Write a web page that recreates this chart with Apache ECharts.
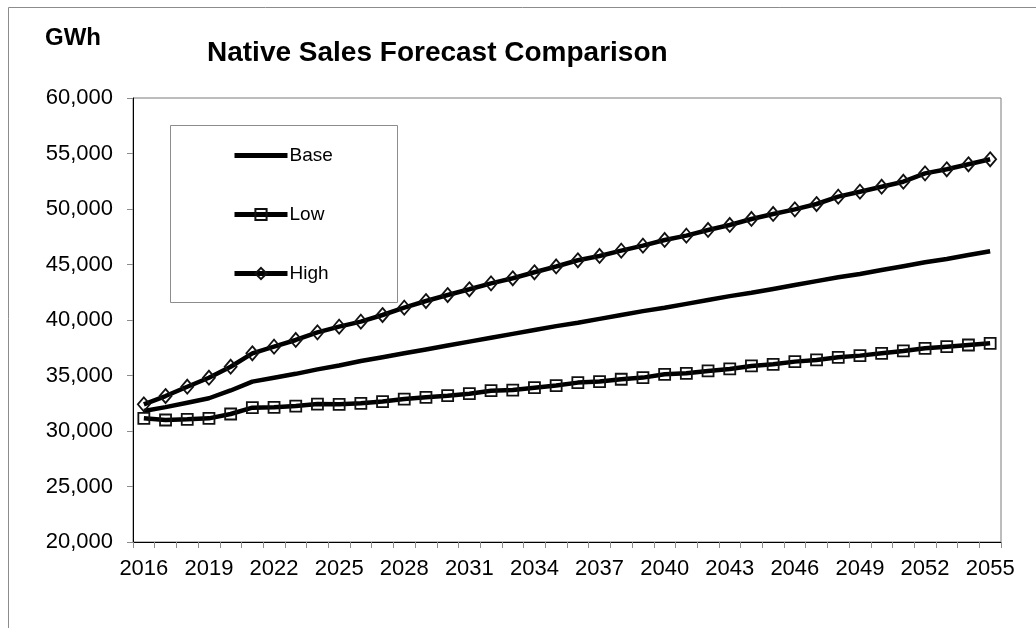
<!DOCTYPE html>
<html>
<head>
<meta charset="utf-8">
<script src="https://cdn.jsdelivr.net/npm/echarts@6/dist/echarts.min.js"></script>
<style>
  html, body { margin: 0; padding: 0; background: #fff; }
  #chart { width: 1036px; height: 628px; }
</style>
</head>
<body>
<div id="chart"></div>
<script>
// Forecast years (category axis)
const years = ['2016','2017','2018','2019','2020','2021','2022','2023','2024','2025',
               '2026','2027','2028','2029','2030','2031','2032','2033','2034','2035',
               '2036','2037','2038','2039','2040','2041','2042','2043','2044','2045',
               '2046','2047','2048','2049','2050','2051','2052','2053','2054','2055'];

// Native sales, GWh
const baseSales = [31800,32150,32550,32950,33650,34450,34800,35150,35550,35900,
                   36300,36650,37000,37350,37700,38050,38400,38750,39100,39450,
                   39750,40100,40450,40800,41100,41450,41800,42150,42450,42800,
                   43150,43500,43850,44150,44500,44850,45200,45500,45850,46200];
const lowSales  = [31140,30990,31050,31140,31530,32100,32130,32250,32430,32400,
                   32490,32650,32880,33030,33180,33360,33630,33690,33900,34090,
                   34360,34450,34660,34810,35110,35200,35410,35590,35860,36010,
                   36250,36400,36640,36790,37000,37210,37450,37600,37750,37900];
const highSales = [32400,33150,33990,34800,35790,37000,37600,38200,38890,39400,
                   39850,40450,41110,41710,42250,42770,43300,43760,44300,44820,
                   45380,45770,46250,46700,47210,47600,48110,48560,49100,49550,
                   49970,50450,51110,51560,52010,52460,53210,53580,54030,54480];

// Value axis range
const yMin = 20000, yMax = 60000, yStep = 5000;

const FONT = '"Liberation Sans", Arial, sans-serif';
const chart = echarts.init(document.getElementById('chart'), null, { renderer: 'canvas' });

const lineBase = { color: '#000', width: 4.5 };
const markerStyle = { color: 'rgba(255,255,255,0)', borderColor: '#111', borderWidth: 1.8 };

chart.setOption({
  animation: false,
  backgroundColor: '#fff',
  textStyle: { fontFamily: FONT },
  graphic: [
    // outer chart frame
    { type: 'rect', left: 6, top: 5, shape: { width: 1100, height: 700 },
      style: { fill: 'none', stroke: '#8c8c8c', lineWidth: 1 }, silent: true, z: -1 },
    // legend frame
    { type: 'rect', left: 170, top: 125, shape: { width: 227, height: 177 },
      style: { fill: '#fff', stroke: '#8c8c8c', lineWidth: 1 }, silent: true, z: 50 },
    { type: 'text', left: 45, top: 26,
      style: { text: 'GWh', font: 'bold 24px ' + FONT, fill: '#000' } }
  ],
  title: {
    text: 'Native Sales Forecast Comparison',
    left: 207, top: 39, padding: 0,
    textStyle: { fontFamily: FONT, fontSize: 28, fontWeight: 'bold', color: '#000' }
  },
  legend: {
    orient: 'vertical',
    left: 232, top: 146,
    padding: 0,
    itemWidth: 53, itemHeight: 14,
    itemGap: 45 - 5,
    z: 60,
    lineStyle: { width: 5, color: '#000' },
    textStyle: { fontFamily: FONT, fontSize: 19, color: '#000', padding: [0, 0, 0, -3] },
    data: ['Base', 'Low', 'High']
  },
  grid: {
    left: 133, top: 98, right: 35, bottom: 86,
    show: true, borderColor: '#7a7a7a', borderWidth: 1, containLabel: false
  },
  xAxis: {
    type: 'category',
    data: years,
    boundaryGap: true,
    axisLine: { lineStyle: { color: '#000', width: 1 } },
    axisTick: { show: true, interval: 0, length: 6, inside: false, lineStyle: { color: '#8c8c8c' } },
    axisLabel: { interval: 2, margin: 16, fontFamily: FONT, fontSize: 22, color: '#000' },
    splitLine: { show: false }
  },
  yAxis: {
    type: 'value',
    min: yMin, max: yMax, interval: yStep,
    axisLine: { show: true, lineStyle: { color: '#000', width: 1 } },
    axisTick: { show: true, length: 6, lineStyle: { color: '#8c8c8c' } },
    axisLabel: {
      margin: 20, fontFamily: FONT, fontSize: 22, color: '#000',
      formatter: v => v.toLocaleString('en-US')
    },
    splitLine: { show: false }
  },
  series: [
    {
      name: 'Base', type: 'line', data: baseSales,
      symbol: 'none', showSymbol: false,
      lineStyle: lineBase, itemStyle: { color: 'rgba(0,0,0,0)', borderWidth: 0 }, z: 3
    },
    {
      name: 'Low', type: 'line', data: lowSales,
      symbol: 'rect', symbolSize: 11, showSymbol: true,
      lineStyle: lineBase, itemStyle: markerStyle, z: 4
    },
    {
      name: 'High', type: 'line', data: highSales,
      symbol: 'diamond', symbolSize: [12, 14], showSymbol: true,
      lineStyle: lineBase, itemStyle: markerStyle, z: 5
    }
  ]
});
</script>
</body>
</html>
